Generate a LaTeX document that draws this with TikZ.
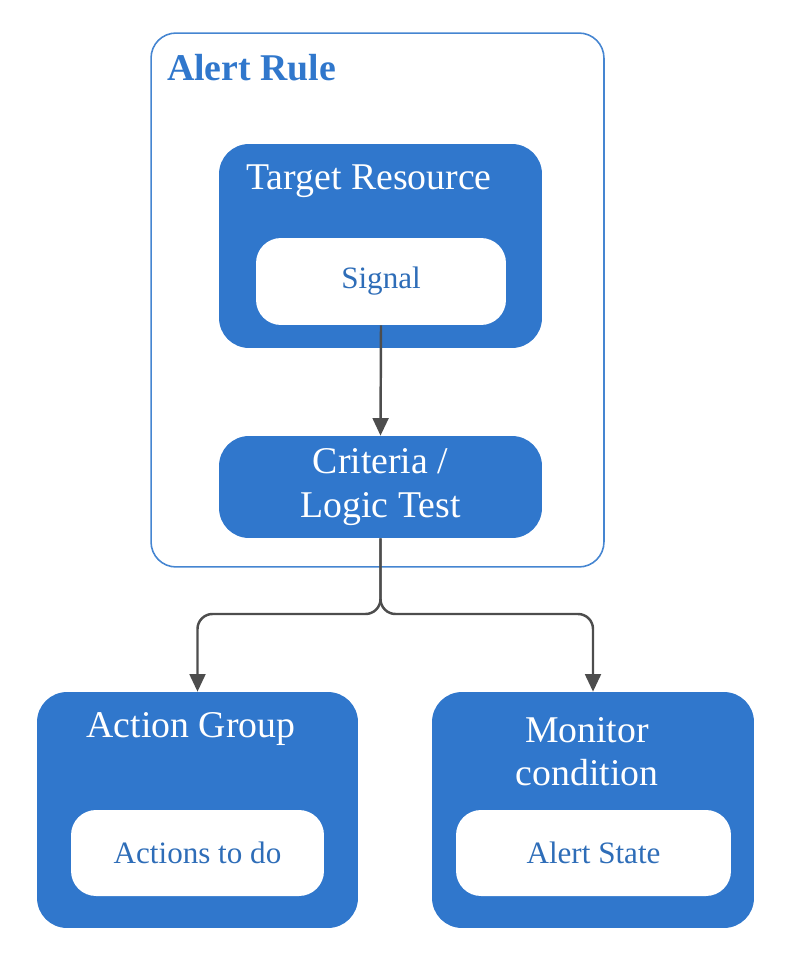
\documentclass[tikz,border=0pt]{standalone}
\usepackage{fontspec}
\setmainfont{Liberation Serif}
\usetikzlibrary{arrows.meta,positioning}

\definecolor{boxblue}{HTML}{3077CC}
\definecolor{textblue}{HTML}{2E6DB8}
\definecolor{linegray}{HTML}{4D4D4D}

\begin{document}
\begin{tikzpicture}[x=0.02cm, y=-0.02cm,
  bluebox/.style={fill=boxblue, draw=none, rounded corners=0.6cm, inner sep=0pt},
  whitebox/.style={fill=white, rounded corners=0.5cm, inner sep=0pt, text=textblue, font=\fontsize{17.7}{21}\selectfont},
  titletext/.style={text=white, align=center, font=\fontsize{21.5}{25}\selectfont},
  link/.style={draw=linegray, line width=1.4pt, -{Triangle[length=10pt,width=9pt]}}]
\useasboundingbox (0,0) rectangle (800,955);

% Alert rule frame
\node[draw=boxblue!90, line width=0.9pt, rounded corners=0.5cm, minimum width=9.06cm, minimum height=10.68cm] (rule) at (377.5,300) {};
\node[anchor=west, text=boxblue, font=\bfseries\fontsize{21.5}{25}\selectfont] (ruletitle) at (161,68) {Alert Rule};

% Target resource
\node[bluebox, minimum width=6.46cm, minimum height=4.08cm] (target) at (380.5,246) {};
\node[titletext] (targettitle) at (369,181) {Target Resource};
\node[whitebox, minimum width=5cm, minimum height=1.74cm] (signal) at (381,281.5) {Signal};

% Criteria
\node[bluebox, titletext, minimum width=6.46cm, minimum height=2.04cm] (crit) at (380.5,487) {Criteria /\\Logic Test};

% Action group
\node[bluebox, minimum width=6.42cm, minimum height=4.72cm] (action) at (197.5,810) {};
\node[titletext] (actiontitle) at (191,729) {Action Group};
\node[whitebox, minimum width=5.06cm, minimum height=1.72cm] (todo) at (197.5,853) {Actions to do};

% Monitor condition
\node[bluebox, minimum width=6.44cm, minimum height=4.72cm] (monitor) at (593,810) {};
\node[titletext, font=\fontsize{21.5}{24.4}\selectfont] (monitortitle) at (587,752) {Monitor\\condition};
\node[whitebox, minimum width=5.5cm, minimum height=1.72cm] (state) at (593.5,853) {Alert State};

% Connectors
\coordinate (split) at (380.5,614);
\draw[link] (signal.south) -- (crit.north);
\draw[link, rounded corners=0.3cm] (crit.south) -- (split) -| (action.north);
\draw[link, rounded corners=0.3cm] (crit.south) -- (split) -| (monitor.north);
\end{tikzpicture}
\end{document}
